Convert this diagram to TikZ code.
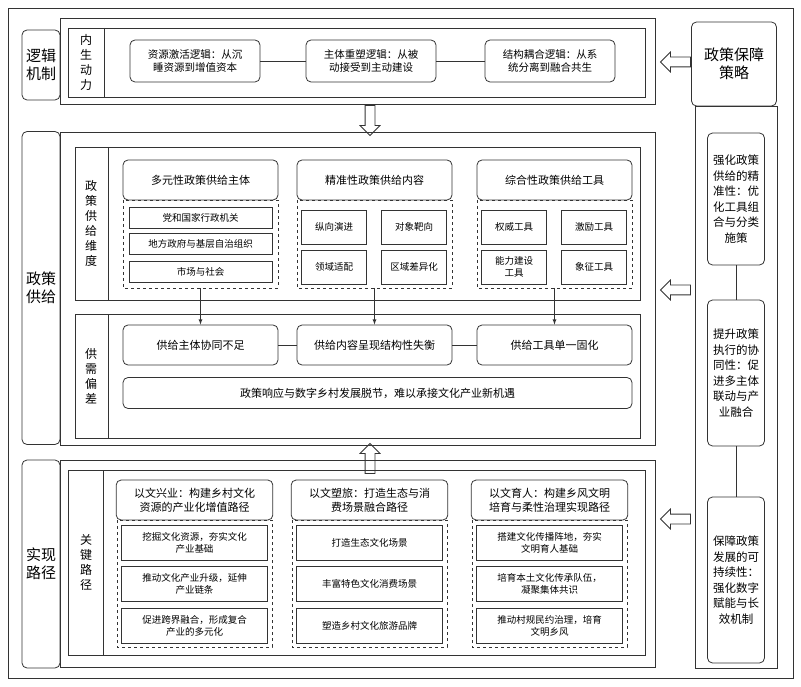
\documentclass[tikz,border=0pt]{standalone}
\usepackage{fontspec}
\setmainfont{Noto Sans CJK SC}
\usetikzlibrary{shapes.arrows}
\begin{document}
\begin{tikzpicture}[x=1pt,y=-1pt,
 line width=0.8pt, draw=black!80,
 rb/.style={draw,rounded corners=5pt,align=center,font=\fontsize{10.5}{13}\selectfont},
 sb/.style={draw,align=center,font=\fontsize{9.5}{12}\selectfont},
 lab/.style={draw,rounded corners=5pt,align=center,font=\fontsize{15}{18}\selectfont},
 col/.style={align=center,font=\fontsize{12}{15}\selectfont},
 rc/.style={draw,rounded corners=5pt,align=center,minimum width=57pt,font=\fontsize{11.5}{15.5}\selectfont},
 dsh/.style={draw,dashed,line width=0.6pt},
 ha/.style={draw,fill=white,single arrow,single arrow head extend=5pt,minimum height=30pt,inner sep=4.5pt,line width=0.8pt}]
\useasboundingbox (0,0) rectangle (801,687);
\draw (8,8) rectangle (793,678);
% top
\draw (60,18) rectangle (655,104);
\draw (68,28) rectangle (645,97); \draw (104,28)--(104,97);
\node[lab,minimum width=38pt,minimum height=70pt] (lj) at (41,65) {逻辑\\机制};
\node[col] (nsdl) at (86,62) {内\\生\\动\\力};
\node[rb,minimum width=130pt,minimum height=42pt] (a1) at (195,61) {资源激活逻辑：从沉\\睡资源到增值资本};
\node[rb,minimum width=130pt,minimum height=42pt] (a2) at (371,61) {主体重塑逻辑：从被\\动接受到主动建设};
\node[rb,minimum width=130pt,minimum height=42pt] (a3) at (550,61) {结构耦合逻辑：从系\\统分离到融合共生};
\draw (a1)--(a2) (a2)--(a3);
% right
\node[lab,minimum width=85pt,minimum height=84pt] (zc) at (734,64) {政策保障\\策略};
\draw (695,106) rectangle (777,668);
\node[rc,minimum height=132pt] (r1) at (736,199) {强化政策\\供给的精\\准性：优\\化工具组\\合与分类\\施策};
\node[rc,minimum height=146pt] (r2) at (736,373) {提升政策\\执行的协\\同性：促\\进多主体\\联动与产\\业融合};
\node[rc,minimum height=166pt] (r3) at (736,580) {保障政策\\发展的可\\持续性：\\强化数字\\赋能与长\\效机制};
\draw (r1)--(r2) (r2)--(r3);
\node[ha,shape border rotate=180] (h1) at (678,62) {};
\node[ha,shape border rotate=180] (h2) at (678,290) {};
\node[ha,shape border rotate=180] (h3) at (678,519) {};
\node[ha,shape border rotate=270] (d1) at (370,118) {};
\node[ha,shape border rotate=90] (d2) at (370,461) {};
% policy
\draw (60,132) rectangle (655,445);
\node[lab,minimum width=38pt,minimum height=313pt] (zg) at (41,288) {政策\\供给};
\draw (75,147) rectangle (640,300); \draw (108,147)--(108,300);
\draw (75,314) rectangle (640,438); \draw (108,314)--(108,438);
\node[col] (wd) at (91,223) {政\\策\\供\\给\\维\\度};
\node[col] (pc) at (91,376) {供\\需\\偏\\差};
\foreach \x/\t [count=\i] in {123/多元性政策供给主体,297/精准性政策供给内容,477/综合性政策供给工具}{
 \node[rb,minimum width=155pt,minimum height=40pt,font=\fontsize{11}{13}\selectfont] (hd\i) at (\x+77.5,180) {\t};
 \draw[dsh] (\x,200) rectangle (\x+155,288);
}
\node[sb,minimum width=143pt,minimum height=21pt] (p1) at (200.5,217.5) {党和国家行政机关};
\node[sb,minimum width=143pt,minimum height=21pt] (p2) at (200.5,244) {地方政府与基层自治组织};
\node[sb,minimum width=143pt,minimum height=21pt] (p3) at (200.5,271.5) {市场与社会};
\foreach \x/\a/\b/\c/\d in {303/纵向演进/对象靶向/领域适配/区域差异化,483/权威工具/激励工具/能力建设\\工具/象征工具}{
 \node[sb,minimum width=62pt,minimum height=34pt,text width=58pt] (q1\x) at (\x+31,227) {\a};
 \node[sb,minimum width=62pt,minimum height=34pt,text width=58pt] (q2\x) at (\x+111,227) {\b};
 \node[sb,minimum width=62pt,minimum height=34pt,text width=58pt] (q3\x) at (\x+31,267) {\c};
 \node[sb,minimum width=62pt,minimum height=34pt,text width=58pt] (q4\x) at (\x+111,267) {\d};
}
\node[rb,minimum width=155pt,minimum height=40pt,font=\fontsize{11}{13}\selectfont] (g1) at (200.5,345) {供给主体协同不足};
\node[rb,minimum width=155pt,minimum height=40pt,font=\fontsize{11}{13}\selectfont] (g2) at (374.5,345) {供给内容呈现结构性失衡};
\node[rb,minimum width=155pt,minimum height=40pt,font=\fontsize{11}{13}\selectfont] (g3) at (554.5,345) {供给工具单一固化};
\draw (g1)--(g2) (g2)--(g3);
\coordinate (c1) at (200.5,288); \coordinate (c2) at (374.5,288); \coordinate (c3) at (554.5,288);
\draw[-latex] (c1)--(g1); \draw[-latex] (c2)--(g2); \draw[-latex] (c3)--(g3);
\node[rb,minimum width=509pt,minimum height=31pt,font=\fontsize{11}{13}\selectfont] (g4) at (377.5,393) {政策响应与数字乡村发展脱节，难以承接文化产业新机遇};
% path
\draw (60,460) rectangle (655,667);
\node[lab,minimum width=38pt,minimum height=208pt] (sx) at (41,564) {实现\\路径};
\draw (68,470) rectangle (645,655); \draw (103,470)--(103,655);
\node[col] (gj) at (86,562) {关\\键\\路\\径};
\foreach \x/\h/\a/\b/\c [count=\i] in {117/以文兴业：构建乡村文化\\资源的产业化增值路径/挖掘文化资源，夯实文化\\产业基础/推动文化产业升级，延伸\\产业链条/促进跨界融合，形成复合\\产业的多元化,
 292/以文塑旅：打造生态与消\\费场景融合路径/打造生态文化场景/丰富特色文化消费场景/塑造乡村文化旅游品牌,
 472/以文育人：构建乡风文明\\培育与柔性治理实现路径/搭建文化传播阵地，夯实\\文明育人基础/培育本土文化传承队伍，\\凝聚集体共识/推动村规民约治理，培育\\文明乡风}{
 \node[rb,minimum width=155pt,minimum height=40pt,text width=150pt,font=\fontsize{11}{14}\selectfont] (k\i) at (\x+77.5,500) {\h};
 \draw[dsh] (\x,520) rectangle (\x+155,647);
 \node[sb,minimum width=143pt,minimum height=35pt,text width=140pt] (ka\i) at (\x+77.5,543) {\a};
 \node[sb,minimum width=143pt,minimum height=35pt,text width=140pt] (kb\i) at (\x+77.5,584) {\b};
 \node[sb,minimum width=143pt,minimum height=35pt,text width=140pt] (kc\i) at (\x+77.5,626) {\c};
}
\end{tikzpicture}
\end{document}
